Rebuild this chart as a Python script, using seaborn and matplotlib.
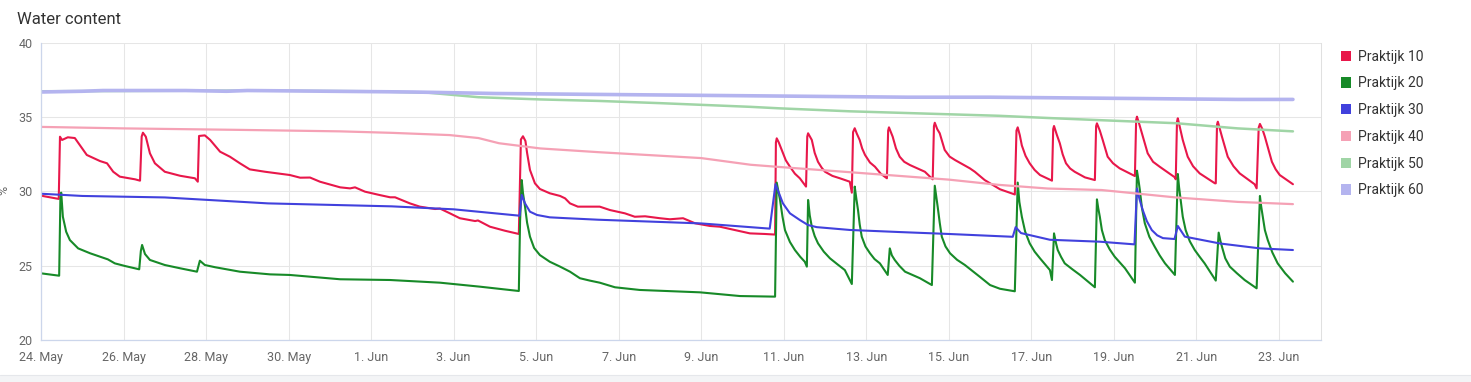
import numpy as np
import pandas as pd
import matplotlib
matplotlib.use("Agg")
import matplotlib.pyplot as plt
from matplotlib.patches import Patch, Rectangle
import seaborn as sns

# time in days after 24 May 00:00, values in %
start = pd.Timestamp("2024-05-24")

p10_t = [0, 0.43, 0.46, 0.51, 0.65, 0.82, 1.11, 1.43, 1.6, 1.75, 1.91, 2.28, 2.4, 2.44, 2.47, 2.54, 2.64, 2.76,
         3.0, 3.37, 3.73, 3.8, 3.83, 3.97, 4.1, 4.34, 4.58, 4.82, 5.06, 5.43, 6.03, 6.28, 6.52, 6.76, 7.25, 7.49,
         7.61, 7.85, 8.21, 8.46, 8.58, 8.94, 9.18, 9.55, 9.67, 9.91, 10.15, 10.52, 10.59, 10.88, 11.24, 11.58,
         11.63, 11.68, 11.74, 11.78, 11.85, 11.97, 12.09, 12.33, 12.58, 12.7, 12.82, 13.01, 13.54, 13.79, 14.15,
         14.39, 14.64, 15.0, 15.24, 15.56, 15.85, 16.21, 16.45, 16.82, 17.18, 17.54, 17.79, 17.81, 17.83, 17.88,
         17.95, 18.05, 18.15, 18.27, 18.39, 18.54, 18.57, 18.59, 18.68, 18.75, 18.83, 18.92, 19.0, 19.18, 19.36,
         19.6, 19.65, 19.68, 19.72, 19.77, 19.84, 19.9, 19.97, 20.09, 20.21, 20.35, 20.5, 20.53, 20.55, 20.64,
         20.72, 20.81, 20.92, 21.06, 21.42, 21.61, 21.64, 21.66, 21.72, 21.78, 21.9, 22.02, 22.15, 22.51, 22.63,
         22.87, 23.24, 23.6, 23.64, 23.67, 23.72, 23.77, 23.86, 23.96, 24.08, 24.21, 24.45, 24.5, 24.53, 24.55,
         24.62, 24.69, 24.76, 24.84, 24.94, 25.05, 25.3, 25.54, 25.57, 25.59, 25.66, 25.73, 25.85, 25.98, 26.14,
         26.46, 26.51, 26.54, 26.56, 26.62, 26.68, 26.82, 26.95, 27.11, 27.48, 27.5, 27.53, 27.55, 27.61, 27.67,
         27.79, 27.92, 28.08, 28.45, 28.47, 28.5, 28.52, 28.57, 28.62, 28.76, 28.9, 29.05, 29.41, 29.46, 29.51,
         29.54, 29.6, 29.66, 29.75, 29.83, 29.92, 30.02, 30.34]
p10_v = [29.72, 29.5, 33.69, 33.47, 33.65, 33.6, 32.46, 32.05, 31.9, 31.33, 31.0, 30.82, 30.73, 33.7, 33.96, 33.69,
         32.57, 31.9, 31.33, 31.06, 30.89, 30.66, 33.74, 33.78, 33.47, 32.68, 32.34, 31.9, 31.49, 31.33, 31.11,
         30.93, 30.94, 30.66, 30.28, 30.21, 30.28, 29.99, 29.76, 29.61, 29.61, 29.2, 28.98, 28.82, 28.85, 28.53,
         28.2, 28.01, 28.05, 27.63, 27.36, 27.14, 33.5, 33.72, 33.4, 32.6, 31.45, 30.55, 30.17, 29.88, 29.7,
         29.54, 29.2, 28.98, 28.98, 28.75, 28.53, 28.3, 28.33, 28.2, 28.13, 28.2, 27.86, 27.68, 27.63, 27.4,
         27.18, 27.14, 27.1, 33.3, 33.58, 33.3, 32.8, 32.1, 31.67, 31.2, 30.89, 30.33, 33.7, 33.92, 33.47, 32.6,
         32.0, 31.6, 31.33, 31.05, 30.89, 30.66, 29.92, 34.0, 34.26, 33.9, 33.47, 32.9, 32.46, 31.95, 31.67,
         31.2, 30.89, 34.1, 34.32, 33.69, 32.9, 32.34, 32.0, 31.78, 31.33, 30.82, 34.4, 34.63, 34.2, 33.92, 32.8,
         32.35, 32.12, 31.56, 31.33, 30.77, 30.15, 29.8, 34.1, 34.32, 33.8, 33.1, 32.4, 31.9, 31.45, 31.11, 30.8,
         30.73, 34.2, 34.41, 33.8, 33.25, 32.5, 31.9, 31.55, 31.33, 30.95, 30.77, 34.4, 34.59, 34.1, 33.47, 32.34,
         31.9, 31.56, 31.11, 31.04, 34.8, 35.04, 34.5, 33.92, 32.57, 32.0, 31.67, 30.95, 30.82, 34.7, 34.93, 34.2,
         33.47, 32.34, 31.7, 31.22, 30.55, 30.55, 34.5, 34.7, 34.2, 33.69, 32.34, 31.7, 31.22, 30.49, 30.21, 34.3,
         34.55, 34.2, 33.69, 32.8, 32.0, 31.5, 31.11, 30.49]

p20_t = [0, 0.44, 0.47, 0.49, 0.53, 0.61, 0.7, 0.9, 1.19, 1.43, 1.62, 1.79, 2.04, 2.38, 2.42, 2.45, 2.52, 2.64,
         3.0, 3.37, 3.78, 3.85, 3.97, 4.22, 4.82, 5.55, 6.03, 7.25, 8.46, 9.67, 10.64, 11.58, 11.61, 11.65, 11.68,
         11.73, 11.78, 11.85, 11.95, 12.09, 12.33, 12.58, 12.82, 13.06, 13.3, 13.54, 13.91, 14.51, 15.97, 16.94,
         17.79, 17.81, 17.83, 17.87, 17.91, 17.97, 18.03, 18.15, 18.27, 18.4, 18.51, 18.56, 18.59, 18.63, 18.68,
         18.75, 18.83, 18.97, 19.12, 19.3, 19.48, 19.65, 19.72, 19.76, 19.8, 19.84, 19.89, 19.98, 20.09, 20.2,
         20.33, 20.52, 20.57, 20.62, 20.69, 20.8, 20.94, 21.3, 21.59, 21.66, 21.7, 21.73, 21.78, 21.83, 21.92,
         22.03, 22.2, 22.39, 22.75, 23.0, 23.24, 23.6, 23.67, 23.71, 23.77, 23.85, 23.96, 24.08, 24.21, 24.33,
         24.45, 24.5, 24.55, 24.6, 24.64, 24.72, 24.81, 25.0, 25.18, 25.54, 25.59, 25.62, 25.66, 25.71, 25.78,
         25.9, 26.02, 26.27, 26.51, 26.56, 26.6, 26.63, 26.68, 26.75, 26.86, 26.99, 27.11, 27.24, 27.48, 27.55,
         27.58, 27.62, 27.67, 27.74, 27.84, 27.96, 28.08, 28.2, 28.47, 28.54, 28.58, 28.62, 28.7, 28.81, 28.98,
         29.17, 29.46, 29.54, 29.57, 29.61, 29.66, 29.73, 29.84, 29.97, 30.15, 30.34]
p20_v = [24.49, 24.33, 29.5, 29.92, 28.3, 27.29, 26.73, 26.17, 25.84, 25.61, 25.43, 25.16, 24.98, 24.76, 26.0,
         26.4, 25.79, 25.39, 25.05, 24.83, 24.6, 25.34, 25.05, 24.9, 24.6, 24.42, 24.38, 24.09, 24.04, 23.86,
         23.59, 23.3, 28.0, 30.77, 29.9, 28.98, 27.9, 26.96, 26.2, 25.72, 25.27, 24.94, 24.6, 24.16, 24.0, 23.86,
         23.55, 23.37, 23.21, 22.96, 22.92, 27.0, 30.6, 30.0, 29.43, 28.3, 27.4, 26.6, 26.06, 25.6, 25.27, 24.94,
         29.43, 28.4, 27.63, 27.0, 26.51, 25.95, 25.5, 25.1, 24.71, 23.77, 30.33, 29.5, 28.75, 27.8, 26.96, 26.3,
         25.84, 25.45, 25.16, 24.38, 26.17, 25.7, 25.39, 25.0, 24.6, 24.16, 23.7, 30.39, 29.6, 28.98, 27.9, 26.96,
         26.3, 25.84, 25.4, 25.05, 24.26, 23.7, 23.45, 23.28, 30.6, 29.3, 28.3, 27.3, 26.51, 25.95, 25.5, 25.1,
         24.71, 24.04, 27.18, 26.5, 26.06, 25.6, 25.16, 24.75, 24.38, 23.55, 29.47, 28.9, 28.3, 27.4, 26.73,
         26.1, 25.61, 24.83, 23.86, 31.4, 30.7, 30.1, 28.9, 27.86, 26.95, 26.28, 25.7, 25.16, 24.38, 31.18, 30.3,
         29.43, 28.3, 27.4, 26.65, 26.06, 25.6, 25.16, 24.0, 27.23, 26.7, 26.28, 25.5, 24.94, 24.5, 24.04, 23.48,
         29.7, 29.0, 28.3, 27.4, 26.73, 25.9, 25.16, 24.5, 23.93]

p30_t = [0, 1, 3, 5.5, 8.5, 10, 11.6, 11.65, 11.73, 11.85, 12.02, 12.33, 12.75, 13.5, 16, 17.66, 17.8, 17.98,
         18.15, 18.39, 18.59, 18.8, 19.6, 20.8, 22, 23.55, 23.62, 23.75, 24.45, 25.66, 26.5, 26.56, 26.62, 26.7,
         26.8, 26.92, 27.05, 27.19, 27.47, 27.55, 27.72, 28.57, 29.54, 30.34]
p30_v = [29.85, 29.7, 29.6, 29.2, 29.0, 28.8, 28.37, 29.77, 29.2, 28.64, 28.42, 28.26, 28.2, 28.1, 27.85, 27.5,
         30.5, 29.2, 28.53, 28.08, 27.74, 27.6, 27.41, 27.27, 27.14, 26.95, 27.6, 27.2, 26.75, 26.62, 26.44, 30.2,
         29.5, 28.75, 28.0, 27.4, 27.05, 26.86, 26.8, 27.68, 26.96, 26.5, 26.17, 26.06]

p40_t = [0, 2, 4.8, 7.25, 8.5, 9.9, 10.6, 11.1, 12.1, 13.5, 16, 17.2, 17.9, 19.6, 22, 23.2, 24.4, 25.7, 27.5,
         29, 30.34]
p40_v = [34.35, 34.25, 34.15, 34.05, 33.95, 33.8, 33.6, 33.25, 32.9, 32.65, 32.25, 31.8, 31.65, 31.3, 30.8,
         30.45, 30.2, 30.1, 29.6, 29.3, 29.15]

p50_t = [0, 5, 8, 9.4, 10, 10.6, 12.1, 13.5, 15, 17.2, 17.9, 19.6, 22, 23.2, 24.4, 25.7, 27.5, 29, 30.34]
p50_v = [36.75, 36.8, 36.75, 36.65, 36.5, 36.35, 36.2, 36.1, 35.95, 35.7, 35.6, 35.4, 35.2, 35.1, 34.95, 34.8,
         34.6, 34.25, 34.05]

p60_t = [0, 1.0, 1.5, 3.5, 4.5, 5, 7, 9, 11, 13, 15, 17, 19, 21, 23, 25, 27, 29, 30.34]
p60_v = [36.7, 36.75, 36.8, 36.8, 36.75, 36.8, 36.75, 36.7, 36.6, 36.55, 36.5, 36.45, 36.4, 36.35, 36.35,
         36.3, 36.25, 36.2, 36.2]

names = ["Praktijk 10", "Praktijk 20", "Praktijk 30", "Praktijk 40", "Praktijk 50", "Praktijk 60"]
colors = ["#e8174a", "#178a28", "#4141dd", "#f5a1b5", "#a0d5a6", "#b4b4ef"]
widths = [1.5, 1.5, 1.5, 1.6, 1.8, 2.6]
series = [(p10_t, p10_v), (p20_t, p20_v), (p30_t, p30_v), (p40_t, p40_v), (p50_t, p50_v), (p60_t, p60_v)]

sns.set_theme(style="whitegrid")
plt.rcParams["font.family"] = ["Roboto", "DejaVu Sans"]

fig = plt.figure(figsize=(14.71, 3.82), dpi=100)
ax = fig.add_axes([41 / 1471, 1 - 340 / 382, 1280 / 1471, 297 / 382])

for name, col, lw, (t, v) in zip(names, colors, widths, series):
    df = pd.DataFrame({"time": start + pd.to_timedelta(t, unit="D"), "value": v})
    sns.lineplot(data=df, x="time", y="value", ax=ax, color=col, linewidth=lw,
                 estimator=None, sort=False, label=name)

ax.set_xlim(start, start + pd.Timedelta(days=31.02))
ax.set_ylim(20, 40)
ax.set_yticks([20, 25, 30, 35, 40])
ticks = pd.date_range(start, "2024-06-23", freq="2D")
ax.set_xticks(ticks)
ax.set_xticklabels([f"{d.day}. {d.strftime('%b')}" for d in ticks])
ax.set_xlabel("")
ax.set_ylabel("")

ax.grid(True, color="#e6e6e6", linewidth=0.75)
ax.tick_params(axis="y", length=0, pad=6, labelsize=9, labelcolor="#666666")
ax.tick_params(axis="x", length=6, width=0.75, color="#ccd6eb", pad=2, labelsize=9, labelcolor="#666666")
for s in ["left", "bottom"]:
    ax.spines[s].set_color("#ccd6eb")
    ax.spines[s].set_linewidth(0.9)
ax.spines["top"].set_visible(False)
ax.spines["right"].set_color("#e0e0e0")
ax.spines["right"].set_linewidth(0.75)

handles = [Patch(facecolor=c, edgecolor="none") for c in colors]
ax.legend(handles, names, loc="upper left", bbox_to_anchor=(1328 / 1471, 1 - 37 / 382),
          bbox_transform=fig.transFigure, frameon=False, fontsize=10, handlelength=0.75,
          handleheight=0.75, handletextpad=0.5, labelspacing=0.92, labelcolor="#333333")

fig.text(17 / 1471, 1 - 19 / 382, "Water content", fontsize=12, color="#333333", va="center", ha="left")
fig.text(-0.002, 1 - 190 / 382, "%", fontsize=9, color="#666666", rotation=90, va="center", ha="left")

fig.patches.append(Rectangle((0, 0), 1, 7 / 382, transform=fig.transFigure, facecolor="#f3f4f6",
                             edgecolor="none", zorder=-1))
fig.lines.append(plt.Line2D([0, 1], [7 / 382, 7 / 382], transform=fig.transFigure, color="#e5e7eb", lw=0.8))

fig.savefig("out.png", dpi=100)
